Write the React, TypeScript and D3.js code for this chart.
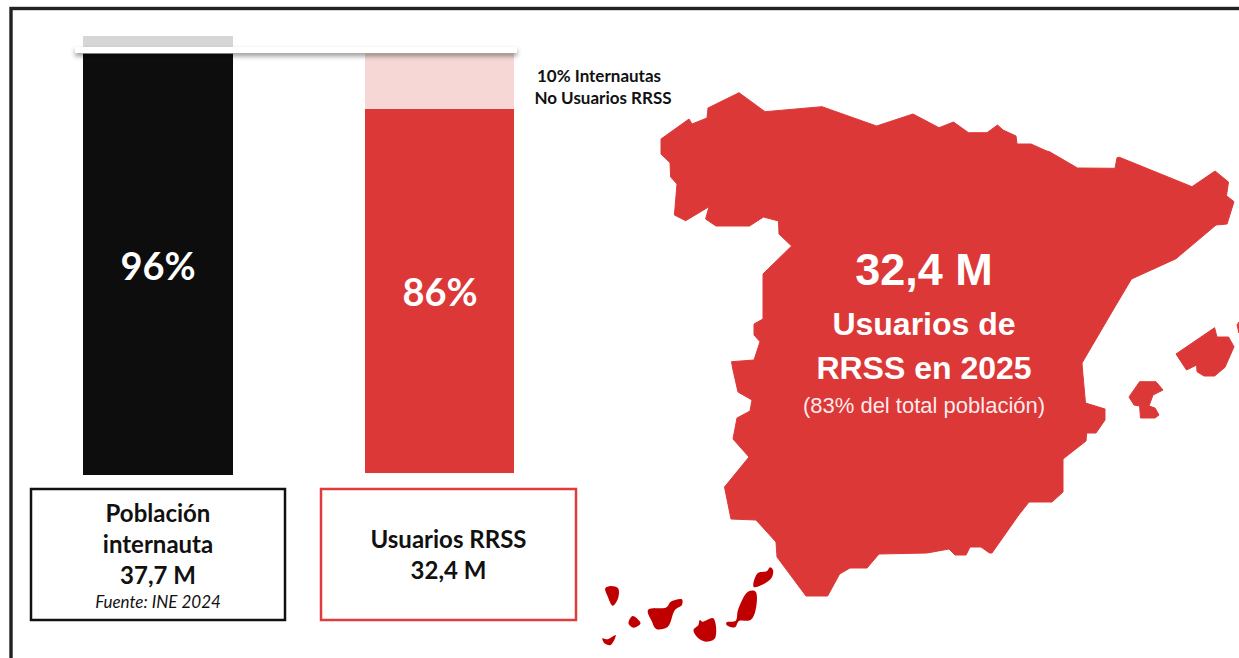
import React from "react";
import * as d3 from "d3";

type P = [number, number];

const W = 1239;
const H = 658;

// Bars: stacked shares (drawn height) and the printed labels
const barNames = ["Población internauta", "Usuarios RRSS"];
const internautaSegments = [
  { from: 0, to: 96, color: "#0d0d0d" },
  { from: 96, to: 100, color: "#d6d6d6" },
];
const usuariosSegments = [
  { from: 0.45, to: 83.4, color: "#dd3838" },
  { from: 83.4, to: 96, color: "#f6d7d5" },
];
const barLabels = ["96%", "86%"];
const sideNote = ["10% Internautas", "No Usuarios RRSS"];
const box1Lines = ["Población", "internauta", "37,7 M"];
const box1Source = "Fuente: INE 2024";
const box2Lines = ["Usuarios RRSS", "32,4 M"];
const mapLines = ["32,4 M", "Usuarios de", "RRSS en 2025", "(83% del total población)"];

// Map outlines
const peninsula: P[] = [
  [661,139],[689,119],[692,124],[707,118],[708,108],[739,92.7],[765,111.7],[822,106.7],[876.5,126],[913,114],
  [939,127.7],[953.5,122],[968.5,132.7],[987,132.7],[997.5,125],[1003,130],[1016,136],[1017,144],[1031,144],
  [1046,150.7],[1050,152],[1077.5,168],[1115,168.3],[1117,157.7],[1119.5,157.3],[1192,186.7],[1215,171],
  [1228.5,182],[1226.5,195.7],[1234,201.7],[1227,224],[1216,225],[1176,258.7],[1131.5,279],[1116,305],
  [1082,363],[1082.5,370],[1085.5,403],[1105,409],[1105,420],[1096,433],[1086.7,433],[1086,441],
  [1063,459],[1063,492],[1052,502],[1029,502],[1018,516],[992,553],[989.5,553],[981,547],[970,547],
  [966,555],[955,555],[949,549],[927,553],[879,554],[867,568],[850,568],[839.6,574],[827.6,596],
  [806,596],[777,557],[776,542],[756,520],[731,519],[724.5,487],[749,457],[733,439],[737,418],[750,411],
  [752,400],[738,392],[733,370],[731.5,361.7],[754,360],[760,341.7],[754,335],[754,324],[763,319],[763,274],
  [791.6,246],[779,234],[778.5,221],[763.5,217],[749.5,226],[716,226],[705.6,219],[709,206.7],[685.7,220.7],
  [674.4,215],[677,184],[670.7,177],[670,162.7],[661,154],
];
const mallorca: P[] = [
  [1176,354],[1214.6,327.7],[1217,337],[1228.5,337],[1234,346.7],[1225,367.3],[1214.6,376],[1204,376],
  [1197,371.7],[1196.6,365],[1186.5,370],
];
const menorca: P[] = [[1239,322],[1237,325],[1239,333]];
const ibiza: P[] = [
  [1139.6,381.7],[1156,381.7],[1163,390],[1153,395],[1149,406],[1155,408],[1159,415],[1155,418],
  [1140.5,418],[1139.6,406],[1134,405],[1129,397],
];
const lanzarote: P[] = [[753.5,586.7],[757.6,573.3],[767,571],[770,567.3],[773,570],[771.3,578.3],[757.6,586.7]];
const fuerteventura: P[] = [
  [748,591.7],[755.6,591.7],[755.6,610],[750.6,620],[739,621],[735,627.3],[726.6,625],[726.6,622.3],[735.7,620.7],[738,610],
];
const granCanaria: P[] = [[699.7,620],[702.6,621.7],[713.3,618.3],[715,638.3],[706,641.7],[698.4,638.3],[693.5,630],[698.4,625]];
const tenerife: P[] = [
  [648,610],[666.6,607.3],[670.7,601.7],[681.9,599.3],[681.9,605],[674.9,610],[667.8,626.7],[656.2,629],[652,621.7],
];
const gomera: P[] = [[632.6,616],[640.5,623.3],[633.5,627.7],[628.5,623.3]];
const laPalma: P[] = [[605.3,588.3],[610.7,586],[618.1,588.3],[618.1,598.3],[612.8,605.7],[607.8,596.7]];
const elHierro: P[] = [[602.4,638.3],[607.4,639.3],[615.7,635],[610.7,645],[604.5,643.3]];

const peninsulaIslands = [peninsula, mallorca, menorca, ibiza];
const canaries = [lanzarote, fuerteventura, granCanaria, tenerife, gomera, laPalma, elHierro];

const y = d3.scaleLinear().domain([0, 100]).range([475, 36]);

const polygon = d3.line<P>().curve(d3.curveLinearClosed);
const blob = d3.line<P>().curve(d3.curveCatmullRomClosed.alpha(0.5));

const barFont = "Lato, 'Open Sans', sans-serif";
const mapFont = "'Liberation Sans', Arial, sans-serif";

export default function App() {
  const bw = 150;
  const x1 = 83;
  const x2 = 365;
  return (
    <svg
      width={W}
      height={H}
      viewBox={`0 0 ${W} ${H}`}
      style={{ position: "absolute", left: 0, top: 0, background: "#fff" }}
    >
      <defs>
        <filter id="sh" x="-5%" y="-150%" width="110%" height="500%">
          <feDropShadow dx="0" dy="3" stdDeviation="2.4" floodColor="#000" floodOpacity="0.42" />
        </filter>
      </defs>

      <rect x={11} y={8.5} width={1400} height={800} fill="none" stroke="#222" strokeWidth={3.4} />

      {internautaSegments.map((s, i) => (
        <rect key={i} x={x1} width={bw} y={y(s.to)} height={y(s.from) - y(s.to)} fill={s.color} />
      ))}
      {usuariosSegments.map((s, i) => (
        <rect key={i} x={x2} width={bw - 1} y={y(s.to)} height={y(s.from) - y(s.to)} fill={s.color} />
      ))}

      <rect x={75} y={47} width={442} height={6} fill="#fff" filter="url(#sh)" />

      <g fontFamily={barFont} fontWeight={700} fill="#fff" fontSize={38} textAnchor="middle">
        <text x={x1 + bw / 2} y={280}>{barLabels[0]}</text>
        <text x={x2 + bw / 2} y={306}>{barLabels[1]}</text>
      </g>

      <g fontFamily={barFont} fontWeight={700} fill="#111" fontSize={17} textAnchor="middle">
        <text x={599} y={82}>{sideNote[0]}</text>
        <text x={603} y={104}>{sideNote[1]}</text>
      </g>

      <rect x={31} y={489} width={254} height={131} fill="#fff" stroke="#111" strokeWidth={2.5} />
      <rect x={321} y={489} width={255} height={131} fill="#fff" stroke="#e03c3c" strokeWidth={2.5} />

      <g fontFamily={barFont} fontWeight={700} fill="#111" fontSize={24} textAnchor="middle">
        {box1Lines.map((t, i) => (
          <text key={t} x={158} y={522 + i * 31}>{t}</text>
        ))}
        {box2Lines.map((t, i) => (
          <text key={t} x={448.5} y={548 + i * 31}>{t}</text>
        ))}
      </g>
      <text x={158} y={608} fontFamily={barFont} fontStyle="italic" fontSize={17} fill="#111" textAnchor="middle">
        {box1Source}
      </text>

      {peninsulaIslands.map((p, i) => (
        <path key={i} d={polygon(p) ?? ""} fill="#dd3838" stroke="#dd3838" strokeWidth={1} strokeLinejoin="round" />
      ))}
      {canaries.map((p, i) => (
        <path key={i} d={blob(p) ?? ""} fill="#c00000" />
      ))}

      <g fontFamily={mapFont} fill="#fff" textAnchor="middle">
        <text x={924} y={285} fontSize={45} fontWeight={700}>{mapLines[0]}</text>
        <text x={924} y={335} fontSize={32} fontWeight={700}>{mapLines[1]}</text>
        <text x={924} y={379} fontSize={32} fontWeight={700}>{mapLines[2]}</text>
        <text x={924} y={413} fontSize={22} fillOpacity={0.92}>{mapLines[3]}</text>
      </g>
    </svg>
  );
}
